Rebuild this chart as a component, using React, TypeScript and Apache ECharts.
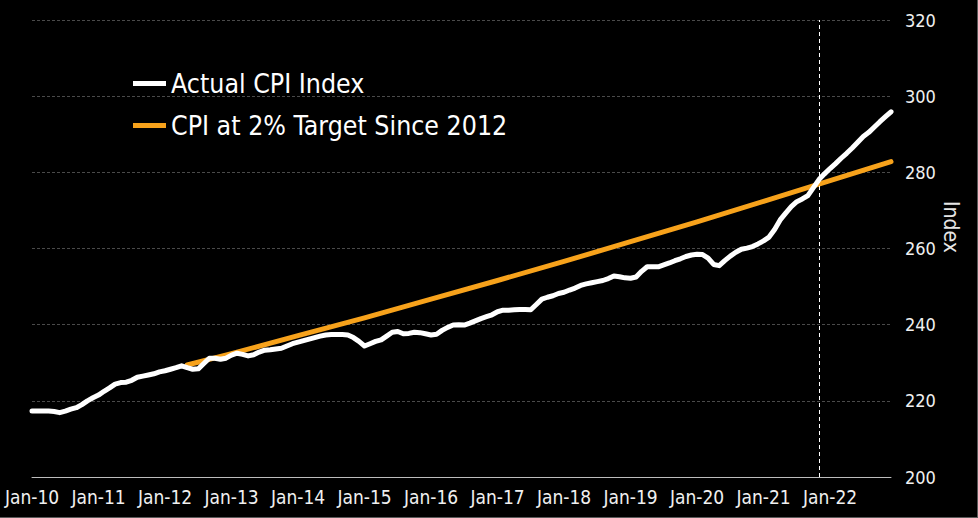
import React, { useEffect, useRef } from "react";
import * as echarts from "echarts";

// Monthly index, month 0 = Jan 2010
const actualCpi: number[] = [
  217.3, 217.3, 217.3, 217.3, 217.2, 216.9, 217.3, 217.8, 218.2, 219.0, 220.0, 220.8,
  221.5, 222.5, 223.4, 224.4, 224.8, 224.9, 225.4, 226.2, 226.5, 226.8, 227.1, 227.6,
  227.9, 228.3, 228.7, 229.2, 228.7, 228.3, 228.4, 229.8, 231.2, 231.2, 230.9, 231.2,
  232.0, 232.5, 232.2, 231.8, 232.1, 232.8, 233.3, 233.4, 233.6, 233.8, 234.4, 235.0,
  235.4, 235.8, 236.2, 236.6, 237.0, 237.3, 237.4, 237.4, 237.4, 237.3, 236.6, 235.6,
  234.4, 235.0, 235.6, 236.0, 237.0, 238.0, 238.2, 237.6, 237.7, 238.0, 237.9, 237.6,
  237.3, 237.5, 238.5, 239.3, 239.9, 240.0, 239.9, 240.4, 241.0, 241.6, 242.1, 242.6,
  243.4, 243.8, 243.8, 243.9, 244.0, 244.0, 243.9, 245.3, 246.7, 247.2, 247.6, 248.2,
  248.5, 249.1, 249.6, 250.3, 250.7, 251.0, 251.3, 251.6, 252.1, 252.8, 252.6, 252.3,
  252.2, 252.5, 254.0, 255.2, 255.2, 255.2, 255.7, 256.2, 256.8, 257.3, 257.9, 258.3,
  258.5, 258.4, 257.5, 255.8, 255.5, 256.8, 258.0, 259.0, 259.8, 260.1, 260.5, 261.2,
  262.0, 263.0, 265.0, 267.5, 269.3, 271.0, 272.3, 273.0, 273.9, 276.0, 278.1, 279.6,
  281.0, 282.3, 283.7, 285.0, 286.4, 287.9, 289.4, 290.5, 291.9, 293.3, 294.6, 295.9,
];

const targetMonths: number[] = [28, 36, 48, 60, 72, 84, 96, 108, 120, 132, 144, 155];
const targetCpi: number[] = [229.4, 232.4, 237.1, 241.8, 246.7, 251.6, 256.6, 261.8, 267.0, 272.4, 277.8, 282.8];

// One label every 12 months, starting Jan-10
const xTickLabels: string[] = [
  "Jan-10", "Jan-11", "Jan-12", "Jan-13", "Jan-14", "Jan-15", "Jan-16",
  "Jan-17", "Jan-18", "Jan-19", "Jan-20", "Jan-21", "Jan-22",
];

const markerMonth = 142;

const FONT = "'DejaVu Sans Condensed', 'DejaVu Sans', sans-serif";

export default function App() {
  const ref = useRef<HTMLDivElement>(null);
  useEffect(() => {
    document.body.style.margin = "0";
    document.body.style.background = "#000";
    const chart = echarts.init(ref.current!, null, { renderer: "svg" });
    chart.setOption({
      animation: false,
      backgroundColor: "#000",
      textStyle: { fontFamily: FONT },
      grid: { left: 32, right: 86, top: 20, bottom: 40 },
      legend: {
        orient: "vertical",
        left: 133,
        top: 70,
        padding: 0,
        itemGap: 15,
        itemWidth: 33,
        itemHeight: 5,
        icon: "rect",
        textStyle: { color: "#fff", fontSize: 26.5, fontFamily: FONT },
        data: ["Actual CPI Index", "CPI at 2% Target Since 2012"],
      },
      xAxis: {
        type: "value",
        min: 0,
        max: actualCpi.length - 1,
        interval: 12,
        axisLine: { show: true, lineStyle: { color: "#bdbdbd", width: 1 } },
        axisTick: { show: false },
        splitLine: { show: false },
        axisLabel: {
          color: "#f0f0f0",
          fontSize: 19,
          fontFamily: FONT,
          margin: 10,
          showMaxLabel: false,
          formatter: (v: number) => xTickLabels[Math.round(v / 12)] ?? "",
        },
      },
      yAxis: {
        type: "value",
        position: "right",
        min: 200,
        max: 320,
        interval: 20,
        axisLine: { show: false },
        axisTick: { show: false },
        splitLine: { show: true, lineStyle: { color: "#4a4a4a", type: [3, 2], width: 1 } },
        axisLabel: { color: "#f0f0f0", fontSize: 18, fontFamily: FONT, margin: 14 },
      },
      graphic: [
        {
          type: "text",
          x: 951,
          y: 227,
          rotation: -Math.PI / 2,
          style: {
            text: "Index",
            fill: "#e6e6e6",
            font: `21px ${FONT}`,
            align: "center",
            verticalAlign: "middle",
          },
        },
      ],
      series: [
        {
          name: "Actual CPI Index",
          type: "line",
          showSymbol: false,
          color: "#ffffff",
          lineStyle: { color: "#ffffff", width: 5, cap: "round", join: "round" },
          data: actualCpi.map((v, i) => [i, v]),
          z: 3,
          markLine: {
            silent: true,
            symbol: ["none", "none"],
            label: { show: false },
            lineStyle: { color: "#ffffff", type: [4, 3], width: 1 },
            data: [{ xAxis: markerMonth }],
          },
        },
        {
          name: "CPI at 2% Target Since 2012",
          type: "line",
          showSymbol: false,
          color: "#f7a21b",
          lineStyle: { color: "#f7a21b", width: 5, cap: "round", join: "round" },
          data: targetMonths.map((m, i) => [m, targetCpi[i]]),
          z: 2,
        },
      ],
    });
    return () => chart.dispose();
  }, []);
  return (
    <div
      style={{
        width: 978,
        height: 518,
        boxSizing: "border-box",
        borderRight: "1px solid #5a5a5a",
        borderBottom: "1px solid #5a5a5a",
        background: "#000",
      }}
    >
      <div ref={ref} style={{ width: 977, height: 517 }} />
    </div>
  );
}
